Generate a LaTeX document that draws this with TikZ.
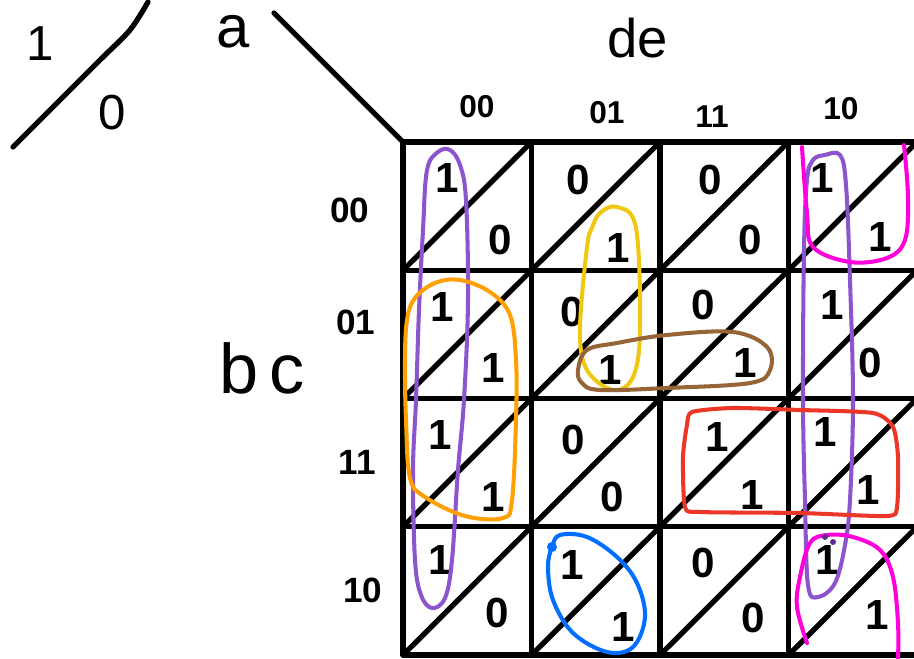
\documentclass[tikz,border=0pt]{standalone}
\usepackage{fontspec}
\setmainfont{Liberation Sans}
\usetikzlibrary{positioning}
\definecolor{grppurple}{RGB}{140, 85, 205}
\definecolor{grpdark}{RGB}{95, 45, 140}
\definecolor{grporange}{RGB}{255, 160, 0}
\definecolor{grpyellow}{RGB}{240, 200, 20}
\definecolor{grpbrown}{RGB}{150, 100, 55}
\definecolor{grpred}{RGB}{235, 55, 40}
\definecolor{grpblue}{RGB}{0, 110, 255}
\definecolor{grpmagenta}{RGB}{255, 0, 220}

\begin{document}
\begin{tikzpicture}[
  x=0.02cm, y=-0.02cm,
  every node/.style={inner sep=0pt, outer sep=0pt},
  cellval/.style={font=\fontsize{24}{28}\selectfont\bfseries},
  collabel/.style={font=\fontsize{18}{22}\selectfont\bfseries},
  rowlabel/.style={font=\fontsize{20}{24}\selectfont\bfseries},
  varlabel/.style={font=\fontsize{#1}{#1}\selectfont},
  kline/.style={line width=3pt, line cap=round, line join=round},
  grp/.style={draw=#1, line width=2.3pt, line cap=round, line join=round}
]
\useasboundingbox (0,0) rectangle (914,659);
\clip (0,0) rectangle (914,659);

% Legend: upper half a=1, lower half a=0
\node[varlabel=28] (legend1) at (40,44) {1};
\node[varlabel=28] (legend0) at (112,113) {0};
\draw[kline] plot[smooth] coordinates {(13,147) (60,100) (100,60) (130,30) (148,2)};

% Variable names
\node[varlabel=34] (avar) at (233,32) {a};
\node[varlabel=31] (devar) at (638,38) {de};
\node[varlabel=40] (bcvar) at (262,368) {b\,c};
\coordinate (astart) at (274,13);
\coordinate (gridnw) at (403,142);
\draw[kline] (astart) -- (gridnw);

% Column labels (de)
\node[collabel] (cde00) at (477,107) {00};
\node[collabel] (cde01) at (607,113) {01};
\node[collabel] (cde11) at (712,117) {11};
\node[collabel] (cde10) at (841,109) {10};

% Row labels (bc)
\node[rowlabel] (rbc00) at (350,210) {00};
\node[rowlabel] (rbc01) at (356,322) {01};
\node[rowlabel] (rbc11) at (357,462) {11};
\node[rowlabel] (rbc10) at (363,590) {10};

% Grid
\draw[kline] (gridnw) -- (917,142)
  (403,270.25) -- (917,270.25)
  (403,398.5) -- (917,398.5)
  (403,526.75) -- (917,526.75)
  (403,655) -- (917,655);
\draw[kline] (gridnw) -- (403,655)
  (531.5,142) -- (531.5,655)
  (660,142) -- (660,655)
  (788.5,142) -- (788.5,655)
  (917,142) -- (917,655);
\draw[kline] (403,270.25) -- (531.5,142)
  (403,398.5) -- (660,142)
  (403,526.75) -- (788.5,142)
  (403,655) -- (917,142)
  (531.5,655) -- (917,270.25)
  (660,655) -- (917,398.5)
  (788.5,655) -- (917,526.75);

% Row bc=00
\node[cellval] (u0000) at (447,178) {1};
\node[cellval] (l0000) at (500,240) {0};
\node[cellval] (u0001) at (578,180) {0};
\node[cellval] (l0001) at (618,248) {1};
\node[cellval] (u0011) at (710,180) {0};
\node[cellval] (l0011) at (750,240) {0};
\node[cellval] (u0010) at (822,178) {1};
\node[cellval] (l0010) at (880,237) {1};

% Row bc=01
\node[cellval] (u0100) at (442,307) {1};
\node[cellval] (l0100) at (493,368) {1};
\node[cellval] (u0101) at (572,312) {0};
\node[cellval] (l0101) at (610,370) {1};
\node[cellval] (u0111) at (703,305) {0};
\node[cellval] (l0111) at (745,363) {1};
\node[cellval] (u0110) at (832,305) {1};
\node[cellval] (l0110) at (870,363) {0};

% Row bc=11
\node[cellval] (u1100) at (440,435) {1};
\node[cellval] (l1100) at (493,497) {1};
\node[cellval] (u1101) at (573,440) {0};
\node[cellval] (l1101) at (612,497) {0};
\node[cellval] (u1111) at (717,437) {1};
\node[cellval] (l1111) at (752,495) {1};
\node[cellval] (u1110) at (825,432) {1};
\node[cellval] (l1110) at (868,490) {1};

% Row bc=10
\node[cellval] (u1000) at (440,560) {1};
\node[cellval] (l1000) at (497,613) {0};
\node[cellval] (u1001) at (572,565) {1};
\node[cellval] (l1001) at (623,627) {1};
\node[cellval] (u1011) at (703,563) {0};
\node[cellval] (l1011) at (753,618) {0};
\node[cellval] (u1010) at (827,560) {1};
\node[cellval] (l1010) at (877,615) {1};

% Groups
\draw[grp=grppurple] plot[smooth cycle, tension=0.6] coordinates {
  (427,170) (423,230) (419,310) (416,400) (413,470) (415,560) (421,595)
  (432,608) (445,598) (452,560) (458,470) (464,400) (468,300) (466,200)
  (460,165) (450,150) (438,152)};
\draw[grp=grppurple] plot[smooth cycle, tension=0.6] coordinates {
  (807,180) (813,160) (825,155) (840,155) (846,185) (850,280) (853,400)
  (850,500) (845,545) (835,583) (818,597) (808,585) (805,500) (803,400)
  (804,250)};
\draw[grp=grpmagenta] plot[smooth, tension=0.6] coordinates {
  (802,147) (807,213) (813,247) (850,262) (887,258) (905,240) (908,197)
  (904,145)};
\draw[grp=grpmagenta] plot[smooth, tension=0.6] coordinates {
  (807,643) (797,607) (800,577) (810,543) (827,535) (853,537) (880,550)
  (893,577) (898,623) (898,660)};
\draw[grp=grporange] plot[smooth cycle, tension=0.6] coordinates {
  (407,320) (415,298) (435,283) (460,280) (490,292) (510,315) (516,360)
  (516,420) (512,500) (503,518) (465,516) (425,497) (410,478) (406,420)
  (405,360)};
\draw[grp=grpyellow] plot[smooth cycle, tension=0.6] coordinates {
  (617,207) (636,228) (640,330) (633,377) (613,390) (587,370) (580,330)
  (587,247) (592,228) (600,213)};
\draw[grp=grpbrown] plot[smooth cycle, tension=0.6] coordinates {
  (578,370) (587,350) (617,343) (667,335) (733,332) (767,347) (770,370)
  (750,383) (667,388) (600,390) (582,383)};
\draw[grp=grpred] plot[smooth cycle, tension=0.4] coordinates {
  (692,412) (733,408) (800,410) (873,413) (893,427) (898,457) (897,507)
  (887,516) (800,513) (700,512) (685,507) (683,457) (687,425)};
\draw[grp=grpblue] plot[smooth cycle, tension=0.6] coordinates {
  (552,547) (560,535) (587,537) (617,557) (637,583) (645,617) (633,647)
  (607,652) (573,633) (553,600) (548,567)};
\fill[grpblue] (552,547) circle (5);
\fill[grpdark] (825,537) circle (3) (833,542) circle (3);

\end{tikzpicture}
\end{document}
